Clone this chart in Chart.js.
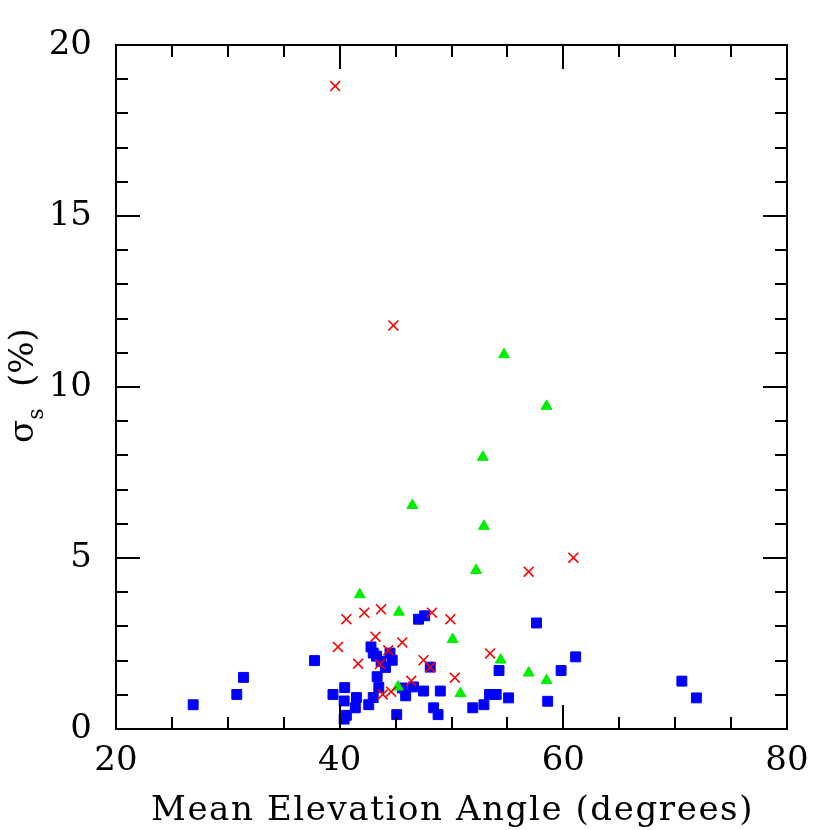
<!DOCTYPE html>
<html>
<head>
<meta charset="utf-8">
<script src="https://cdn.jsdelivr.net/npm/chart.js@4"></script>
<style>
  html, body { margin: 0; padding: 0; background: #fff; }
  canvas { display: block; }
</style>
</head>
<body>
<canvas id="scatter" width="830" height="830"></canvas>
<script>
// ---- data ----
const squareX = [26.9, 30.8, 31.4, 37.75, 39.4, 40.45, 40.4, 40.6, 40.4, 41.4, 41.5, 42.6, 43.0,
                 42.8, 43.0, 43.3, 43.7, 44.1, 44.5, 44.7, 43.35, 43.5, 45.1, 45.6, 45.9, 46.6,
                 47.5, 47.05, 47.6, 48.1, 48.4, 48.8, 49.0, 51.9, 52.9, 53.4, 54.0, 54.25, 55.1,
                 57.6, 58.6, 59.8, 61.1, 70.6, 71.9];
const squareY = [0.71, 1.01, 1.51, 2.0, 1.01, 1.21, 0.82, 0.40, 0.29, 0.62, 0.92, 0.71, 0.92,
                 2.40, 2.22, 2.13, 1.98, 1.80, 2.22, 2.01, 1.53, 1.22, 0.42, 1.20, 0.97, 1.23,
                 1.11, 3.21, 3.31, 1.81, 0.62, 0.42, 1.11, 0.62, 0.71, 1.01, 1.01, 1.71, 0.91,
                 3.10, 0.81, 1.71, 2.11, 1.40, 0.91];

const crossX = [39.6, 44.8, 56.9, 60.9, 40.6, 39.85, 41.65, 42.2, 43.7, 48.25, 49.9, 43.2,
                45.6, 44.35, 43.6, 47.5, 48.1, 50.3, 46.4, 43.85, 44.6, 53.45];
const crossY = [18.8, 11.8, 4.6, 5.01, 3.21, 2.40, 1.91, 3.40, 3.50, 3.40, 3.21, 2.70,
                2.53, 2.30, 1.90, 2.01, 1.80, 1.50, 1.41, 1.01, 1.09, 2.21];

const triX = [54.7, 58.5, 52.8, 46.5, 52.9, 52.2, 41.8, 45.3, 50.1, 45.2, 50.8, 54.4, 56.9, 58.5];
const triY = [10.95, 9.44, 7.95, 6.54, 5.93, 4.64, 3.93, 3.42, 2.62, 1.23, 1.04, 2.02, 1.64, 1.42];

const xTitle = 'Mean Elevation Angle (degrees)';
const xMin = 20, xMax = 80, xStep = 20, xMinor = 5;
const yMin = 0, yMax = 20, yStep = 5, yMinor = 1;

const FONT = "'DejaVu Serif', 'Liberation Serif', serif";

function pairs(xs, ys) {
  return xs.map(function (v, i) { return { x: v, y: ys[i] }; });
}

// inward ticks on all four sides + frame
const frameTicks = {
  id: 'frameTicks',
  afterDatasetsDraw(chart) {
    const { ctx, chartArea: a, scales: { x, y } } = chart;
    ctx.save();
    ctx.strokeStyle = '#000';
    ctx.lineWidth = 2;
    ctx.beginPath();
    for (let v = x.min; v <= x.max + 1e-9; v += xMinor) {
      const px = Math.round(x.getPixelForValue(v));
      const len = (v % xStep === 0) ? 24 : 12;
      ctx.moveTo(px, a.bottom); ctx.lineTo(px, a.bottom - len);
      ctx.moveTo(px, a.top); ctx.lineTo(px, a.top + len);
    }
    for (let v = y.min; v <= y.max + 1e-9; v += yMinor) {
      const py = Math.round(y.getPixelForValue(v));
      const len = (v % yStep === 0) ? 24 : 12;
      ctx.moveTo(a.left, py); ctx.lineTo(a.left + len, py);
      ctx.moveTo(a.right, py); ctx.lineTo(a.right - len, py);
    }
    ctx.stroke();
    ctx.strokeRect(a.left, a.top, a.right - a.left, a.bottom - a.top);
    ctx.restore();
  }
};

// axis titles: spaced-out x title, sigma_s (%) on the y side
const axisTitles = {
  id: 'axisTitles',
  afterDraw(chart) {
    const { ctx, chartArea: a } = chart;
    ctx.save();
    ctx.fillStyle = '#000';
    ctx.textBaseline = 'alphabetic';

    ctx.font = '34px ' + FONT;
    ctx.letterSpacing = '1.6px';
    ctx.textAlign = 'center';
    ctx.fillText(xTitle, (a.left + a.right) / 2 + 1, 820);
    ctx.letterSpacing = '0px';
    ctx.textAlign = 'left';

    ctx.translate(33, 443);
    ctx.rotate(-Math.PI / 2);
    ctx.fillText('\u03c3', 0, 0);
    const cx = ctx.measureText('\u03c3').width;
    ctx.font = '22px ' + FONT;
    ctx.fillText('s', cx, 10);
    ctx.font = '34px ' + FONT;
    ctx.fillText('(%)', 56, 0);
    ctx.restore();
  }
};

new Chart(document.getElementById('scatter'), {
  type: 'scatter',
  data: {
    datasets: [
      {
        label: 'crosses',
        data: pairs(crossX, crossY),
        pointStyle: 'crossRot',
        pointRadius: 7,
        pointBorderWidth: 1.6,
        borderColor: '#ff0000',
        backgroundColor: '#ff0000'
      },
      {
        label: 'triangles',
        data: pairs(triX, triY),
        pointStyle: 'triangle',
        pointRadius: 6.3,
        pointBorderWidth: 1,
        borderColor: '#00ee00',
        backgroundColor: '#00ee00'
      },
      {
        label: 'squares',
        data: pairs(squareX, squareY),
        pointStyle: 'rect',
        pointRadius: 7,
        pointBorderWidth: 1,
        borderColor: '#0000ff',
        backgroundColor: '#0000ff'
      }
    ]
  },
  options: {
    responsive: false,
    animation: false,
    layout: { padding: { left: 0, top: 45, right: 43, bottom: 0 } },
    plugins: { legend: { display: false }, tooltip: { enabled: false } },
    scales: {
      x: {
        min: xMin, max: xMax,
        grid: { display: false, drawTicks: false },
        border: { display: false },
        ticks: {
          stepSize: xStep, padding: 12, color: '#000',
          font: { family: FONT, size: 34 }
        },
        afterFit: function (s) { s.height = 101; }
      },
      y: {
        min: yMin, max: yMax,
        grid: { display: false, drawTicks: false },
        border: { display: false },
        ticks: {
          stepSize: yStep, padding: 24, color: '#000',
          font: { family: FONT, size: 34 }
        },
        afterFit: function (s) { s.width = 116; }
      }
    }
  },
  plugins: [frameTicks, axisTitles]
});
</script>
</body>
</html>
